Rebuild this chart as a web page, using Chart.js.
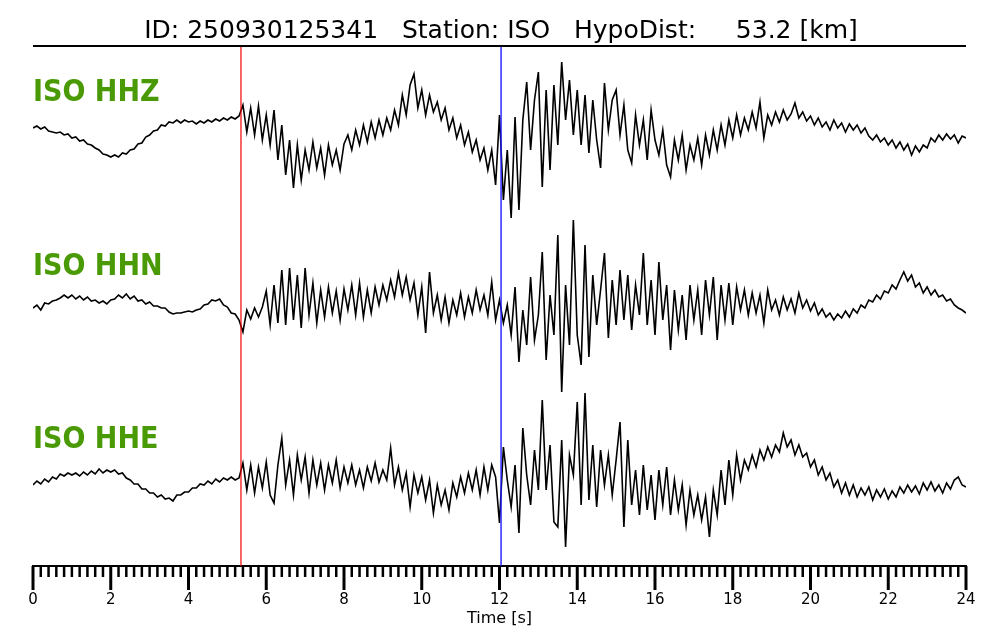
<!DOCTYPE html>
<html>
<head>
    <meta charset="UTF-8" />
    <title>ISO - registro sismico</title>
    <script src="https://cdn.jsdelivr.net/npm/chart.js"></script>
    <style>
        body { margin: 0; background: #fff; }
        #seismoChart { display: block; }
    </style>
</head>
<body>
    <canvas id="seismoChart" width="1000" height="640"></canvas>

    <script type="text/javascript">
        // samples every 0.1 s, amplitude in counts (up = positive)
        const sampleStep = 0.1;
        const channels = ['ISO HHZ', 'ISO HHN', 'ISO HHE'];
        const titleText = 'ID: 250930125341   Station: ISO   HypoDist:     53.2 [km]';
        const pickP = 5.35;
        const pickS = 12.04;

        const traceHHZ = [
            2, 4, 1, 3, -1, -2, -3, -2, -5, -4, -8,
            -7, -11, -10, -14, -15, -18, -20, -24, -25, -27,
            -25, -27, -23, -24, -20, -19, -14, -13, -7, -5,
            -1, 0, 5, 4, 8, 7, 10, 7, 10, 8,
            9, 6, 9, 7, 10, 8, 11, 9, 12, 10,
            13, 11, 14,
            25, -2, 22, -5, 24, -10, 15,
            -15, 20, -30, 5, -45, -10, -58, -15, -50, -20,
            -40, -12, -38, -18, -45, -15, -35, -20, -40, -14,
            -5, -20, 0, -15, 5, -12, 8, -8, 10, -5,
            12, 0, 20, 5, 35, 15, 45, 56, 22, 40,
            15, 35, 18, 28, 10, 22, 0, 12, -8, 5,
            -15, -2, -22, -10, -30, -18, -40, -20, -55, 15,
            -70, -20, -88, 13, -80, 10, 48, -20, 30, 58,
            -57, 40, -40, 45, -15, 68, 10, 50, -5, 40,
            -15, 35, -23, 30, -10, -38, 47, 0, 30, 40,
            -5, 25, -20, -33, 15, -15, 10, -30, 20, -10,
            -25, 0, -35, -47, -10, -30, -5, -40, -15, -30,
            -8, -35, -5, -25, 0, -20, 5, -15, 10, -8,
            15, -5, 12, 0, 18, 2, 28, -8, 15, 5,
            18, 8, 20, 10, 16, 27, 12, 18, 9, 14,
            5, 12, 3, 8, 0, 10, 2, 7, -2, 6,
            0, 5, -3, 2, -6, -10, -5, -12, -8, -15,
            -10, -18, -12, -20, -14, -25, -16, -22, -15, -18,
            -8, -12, -5, -10, -4, -9, -5, -13, -6, -8
        ];

        const traceHHN = [
            -3, 0, -5, 2, 1, 4, 5, 7, 10, 7, 10,
            6, 9, 5, 8, 4, 5, 2, 4, 1, 5,
            6, 10, 7, 11, 6, 9, 4, 5, 1, 3,
            -1, -1, -3, -3, -7, -9, -8, -8, -7, -6,
            -7, -5, -4, 0, 1, 5, 4, 6, 0, -2,
            -8, -9, -15,
            -27, -5, -14, -3, -12, -2, 14,
            -20, 20, -18, 35, -20, 37, -15, 30, -23, 37,
            -10, 22, -18, 15, -12, 18, -8, 14, -15, 16,
            -5, 20, -10, 22, -12, 15, -8, 18, 0, 20,
            5, 25, 8, 32, 10, 28, 5, 22, -10, 18,
            -28, 33, -8, 10, -15, 8, -18, 5, -10, 12,
            -12, 8, -8, 15, -5, 10, -10, 23, -15, 5,
            -18, 0, -30, 18, -57, -5, -40, 28, -35, -10,
            53, -55, 10, -30, 70, -87, 20, -40, 85, -30,
            -60, 60, -52, 30, -20, 15, 52, -33, 25, -20,
            35, -15, 30, -25, 20, -10, 52, -20, 25, -30,
            43, -15, 20, -45, 15, -25, 10, -35, 20, -15,
            15, -30, 25, -10, 28, -35, 20, -15, 22, -20,
            18, -5, 15, -10, 12, -8, 10, -18, 15, -5,
            5, -10, 8, -5, 6, -8, 12, -3, 5, -6,
            2, -10, -4, -12, -8, -15, -9, -13, -6, -12,
            -4, -8, 0, -3, 5, 3, 10, 6, 14, 12,
            20, 16, 25, 33, 24, 30, 18, 22, 12, 18,
            10, 15, 8, 10, 4, 6, 0, -3, -5, -8
        ];

        const traceHHE = [
            0, 4, 1, 6, 3, 8, 6, 11, 9, 12, 10,
            12, 9, 13, 10, 14, 11, 16, 12, 15, 13,
            15, 11, 12, 7, 5, 1, 1, -4, -4, -8,
            -8, -12, -10, -14, -13, -16, -10, -10, -7, -7,
            -3, -3, 1, 0, 4, 1, 6, 3, 7, 5,
            8, 5, 7,
            22, -5, 20, -8, 18, -3, 23,
            -10, -18, 20, 47, 0, 25, -10, 30, 5, 28,
            -8, 25, 0, 22, -5, 20, 2, 25, -3, 18,
            2, 20, 0, 15, -3, 18, 4, 22, 3, 15,
            5, 37, 0, 18, -5, 12, -22, 10, -8, 8,
            -15, 5, -28, 0, -20, -5, -25, 2, -12, 8,
            -8, 12, -5, 15, -10, 18, -5, 20, 8, -38,
            38, 5, -22, 20, -48, 57, 10, -20, 35, -5,
            85, -5, 40, -37, -42, 45, -62, 30, 10, 83,
            -20, 92, -15, 40, -22, 35, 0, 30, -10, 25,
            63, -42, 45, -20, 15, -30, 20, -25, 10, -35,
            15, -20, 18, -30, 5, -25, 0, -40, -5, -30,
            -10, -35, -12, -52, -5, -30, 15, -20, 25, -10,
            30, 5, 25, 15, 30, 18, 35, 25, 38, 28,
            40, 33, 52, 38, 45, 30, 40, 28, 32, 18,
            25, 10, 18, 5, 12, -2, 5, -8, 2, -10,
            0, -12, -3, -10, -2, -15, -5, -12, -4, -14,
            -6, -12, -2, -8, 0, -7, -1, -9, 2, -5,
            3, -6, 0, -8, 2, -4, 5, 8, 0, -2
        ];

        // vertical layout of the three traces inside the plot (y runs 0..520)
        const traces = [traceHHZ, traceHHN, traceHHE];
        const baselines = [436, 261, 81];
        const labelBaselines = [101, 275, 448];
        const yTop = 520;

        const FONT = '"DejaVu Sans", sans-serif';
        const FONT_COND = '"DejaVu Sans Condensed", "DejaVu Sans", sans-serif';

        function isMajor(v) {
            return Math.abs(v / 2 - Math.round(v / 2)) < 1e-6;
        }

        function buildTrace(values, base) {
            return values.map((v, i) => ({ x: Math.round(i * sampleStep * 10) / 10, y: base + v }));
        }

        function pickLine(t, color, width) {
            return {
                data: [{ x: t, y: 0 }, { x: t, y: yTop }],
                borderColor: color,
                borderWidth: width,
                pointRadius: 0,
                order: 0
            };
        }

        const overlayPlugin = {
            id: 'overlay',
            afterDraw(chart) {
                const ctx = chart.ctx;
                const area = chart.chartArea;
                const xs = chart.scales.x;
                ctx.save();

                // title + rule below it
                ctx.fillStyle = '#000';
                ctx.font = '25px ' + FONT;
                ctx.textAlign = 'center';
                ctx.textBaseline = 'alphabetic';
                ctx.fillText(titleText, 501, 38);
                ctx.strokeStyle = '#000';
                ctx.lineWidth = 2;
                ctx.beginPath();
                ctx.moveTo(area.left, area.top);
                ctx.lineTo(area.right, area.top);
                ctx.stroke();

                // channel names
                ctx.fillStyle = '#4a9a06';
                ctx.font = 'bold 30px ' + FONT_COND;
                ctx.textAlign = 'left';
                channels.forEach((name, i) => {
                    ctx.fillText(name, area.left, labelBaselines[i]);
                });

                // major / minor ticks hanging below the axis
                ctx.strokeStyle = '#000';
                xs.ticks.forEach(t => {
                    const px = xs.getPixelForValue(t.value);
                    const major = isMajor(t.value);
                    ctx.lineWidth = major ? 3 : 2.5;
                    ctx.beginPath();
                    ctx.moveTo(px, area.bottom);
                    ctx.lineTo(px, area.bottom + (major ? 24 : 11));
                    ctx.stroke();
                });
                ctx.restore();
            }
        };

        function initChart() {
            const ctx = document.getElementById('seismoChart').getContext('2d');
            const datasets = traces.map((tr, i) => ({
                label: channels[i],
                data: buildTrace(tr, baselines[i]),
                borderColor: '#000',
                borderWidth: 1.6,
                pointRadius: 0,
                tension: 0,
                order: 1
            }));
            datasets.push(pickLine(pickP, '#f00000', 1.2));
            datasets.push(pickLine(pickS, '#1f1fff', 1.4));

            new Chart(ctx, {
                type: 'line',
                data: { datasets: datasets },
                options: {
                    responsive: false,
                    animation: false,
                    devicePixelRatio: 1,
                    layout: { padding: { left: 33, right: 34, top: 46, bottom: 13 } },
                    plugins: {
                        legend: { display: false },
                        tooltip: { enabled: false }
                    },
                    scales: {
                        x: {
                            type: 'linear',
                            min: 0,
                            max: 24,
                            border: { display: true, color: '#000', width: 2 },
                            grid: {
                                drawOnChartArea: false,
                                drawTicks: true,
                                tickLength: 24,
                                tickColor: 'rgba(0,0,0,0)'
                            },
                            ticks: {
                                stepSize: 0.2,
                                autoSkip: false,
                                maxRotation: 0,
                                padding: 6,
                                color: '#000',
                                font: { family: FONT, size: 15, lineHeight: 0.6 },
                                callback: v => isMajor(v) ? String(Math.round(v)) : ''
                            },
                            title: {
                                display: true,
                                text: 'Time [s]',
                                color: '#000',
                                font: { family: FONT, size: 16, lineHeight: 1.0 },
                                padding: { top: 0, bottom: 0 }
                            }
                        },
                        y: {
                            type: 'linear',
                            min: 0,
                            max: yTop,
                            display: false
                        }
                    }
                },
                plugins: [overlayPlugin]
            });
        }

        window.onload = initChart;
    </script>
</body>
</html>
